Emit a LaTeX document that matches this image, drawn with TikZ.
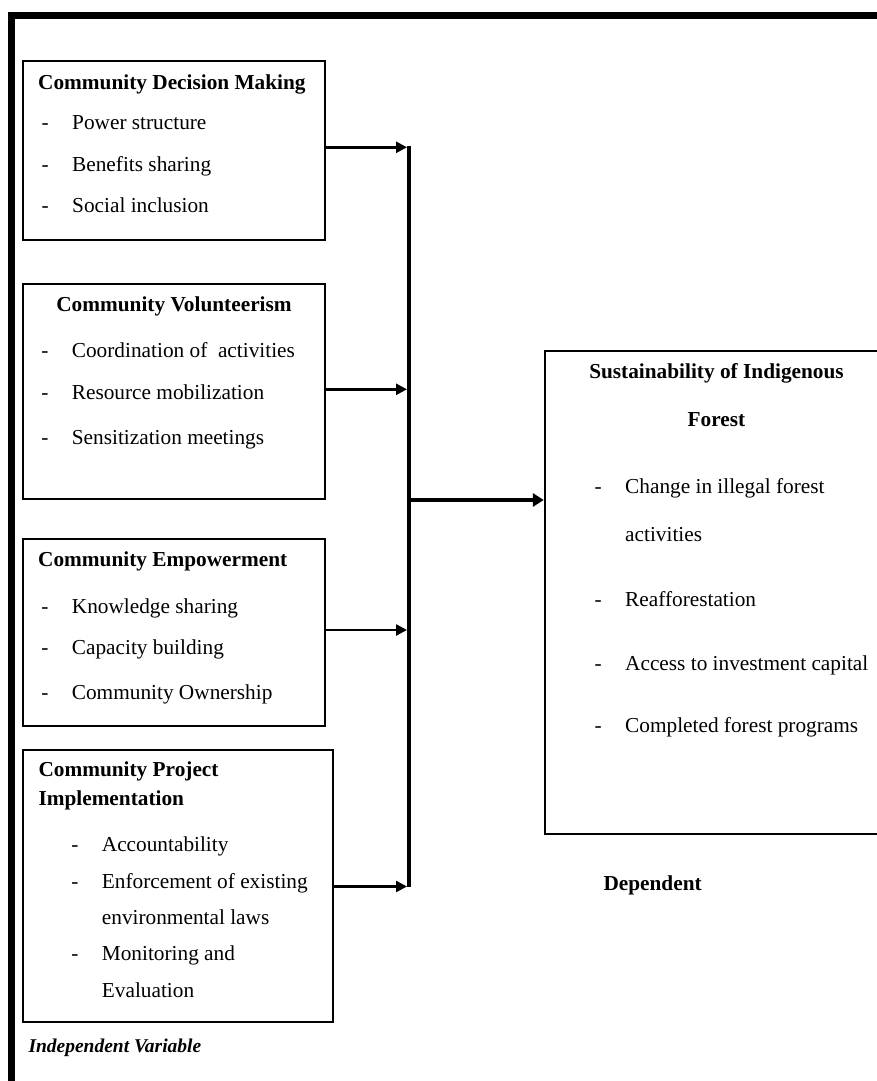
\documentclass[tikz,border=0pt]{standalone}
\usepackage{fontspec}
\setmainfont{Liberation Serif}
\usepackage{tikz}
\usetikzlibrary{arrows.meta, positioning, calc}
\newcommand{\itm}[1]{\makebox[30.5pt][l]{-}#1}

\begin{document}
\begin{tikzpicture}[x=1pt, y=-1pt,
    font=\fontsize{21.3}{25}\selectfont,
    varbox/.style={draw, line width=2.4pt, inner sep=0pt},
    head/.style={font=\fontsize{21.3}{25}\selectfont\bfseries, inner sep=0pt, anchor=base west},
    item/.style={inner sep=0pt, anchor=base west},
    feed/.style={-{Triangle[length=11pt, width=11pt]}, line width=2.5pt},
    bus/.style={line width=4.5pt}]

\useasboundingbox (0,0) rectangle (877,1081);
\clip (0,0) rectangle (877,1081);

% ── frame ────────────────────────────────────────────────────────
\draw[line width=7pt] (11.8,1090) -- (11.8,15.8) -- (890,15.8);

% ── BOX 1: decision making ───────────────────────────────────────
\node[varbox, minimum width=302, minimum height=179] (decision) at (174,150.5) {};
\node[head] (decT) at (38,89) {Community Decision Making};
\foreach \y/\t [count=\i] in {129.5/Power structure, 171.5/Benefits sharing, 212.7/Social inclusion} {
    \node[item] (dec\i) at (41.5,\y) {\itm{\t}};
}

% ── BOX 2: volunteerism ──────────────────────────────────────────
\node[varbox, minimum width=302, minimum height=215] (volunteer) at (174,391.5) {};
\node[head, anchor=base] (volT) at (174,311.7) {Community Volunteerism};
\foreach \y/\t [count=\i] in {357.3/Coordination of\ \ activities, 399.3/Resource mobilization, 444.3/Sensitization meetings} {
    \node[item] (vol\i) at (41.2,\y) {\itm{\t}};
}

% ── BOX 3: empowerment ───────────────────────────────────────────
\node[varbox, minimum width=302, minimum height=187] (empower) at (174,632.5) {};
\node[head] (empT) at (38,566.7) {Community Empowerment};
\foreach \y/\t [count=\i] in {613.3/Knowledge sharing, 654.3/Capacity building, 699/Community Ownership} {
    \node[item] (emp\i) at (41.2,\y) {\itm{\t}};
}

% ── BOX 4: project implementation ────────────────────────────────
\node[varbox, minimum width=310, minimum height=272] (project) at (178,886) {};
\node[head] (proT1) at (38.3,776.7) {Community Project};
\node[head] (proT2) at (38.3,805) {Implementation};
\node[item] (pro1) at (71.2,851.7) {\itm{Accountability}};
\node[item] (pro2) at (71.2,888.3) {\itm{Enforcement of existing}};
\node[item] (pro3) at (101.7,924) {environmental laws};
\node[item] (pro4) at (71.2,960.7) {\itm{Monitoring and}};
\node[item] (pro5) at (101.7,997.3) {Evaluation};

\node[item, font=\fontsize{19.5}{23}\selectfont\bfseries\itshape] (indep) at (28.3,1052.3) {Independent Variable};

% ── dependent box ────────────────────────────────────────────────
\node[varbox, minimum width=337, minimum height=483] (sustain) at (713.5,592.5) {};
\node[head, anchor=base] (susT1) at (716.5,378.3) {Sustainability of Indigenous};
\node[head, anchor=base] (susT2) at (716.5,426.7) {Forest};
\node[item] (sus1) at (594.5,493.3) {\itm{Change in illegal forest}};
\node[item] (sus2) at (625,541.7) {activities};
\node[item] (sus3) at (594.5,606.7) {\itm{Reafforestation}};
\node[item] (sus4) at (594.5,670) {\itm{Access to investment capital}};
\node[item] (sus5) at (594.5,732.7) {\itm{Completed forest programs}};

\node[head] (dep) at (603.3,890) {Dependent};

% ── connectors ───────────────────────────────────────────────────
\coordinate (bustop) at (409,146);
\coordinate (busbot) at (409,887);
\coordinate (b1) at (407,147.3);
\coordinate (b2) at (407,389.3);
\coordinate (b3) at (407,630);
\coordinate (b4) at (407,886.5);
\coordinate (jn) at (409,500);

\draw[bus] (bustop) -- (busbot);
\draw[feed] (decision.east |- b1) -- (b1);
\draw[feed] (volunteer.east |- b2) -- (b2);
\draw[feed] (empower.east |- b3) -- (b3);
\draw[feed] (project.east |- b4) -- (b4);
\draw[bus, -{Triangle[length=11pt, width=13pt]}, line width=4pt] (jn) -- (jn -| sustain.west);

\end{tikzpicture}
\end{document}
